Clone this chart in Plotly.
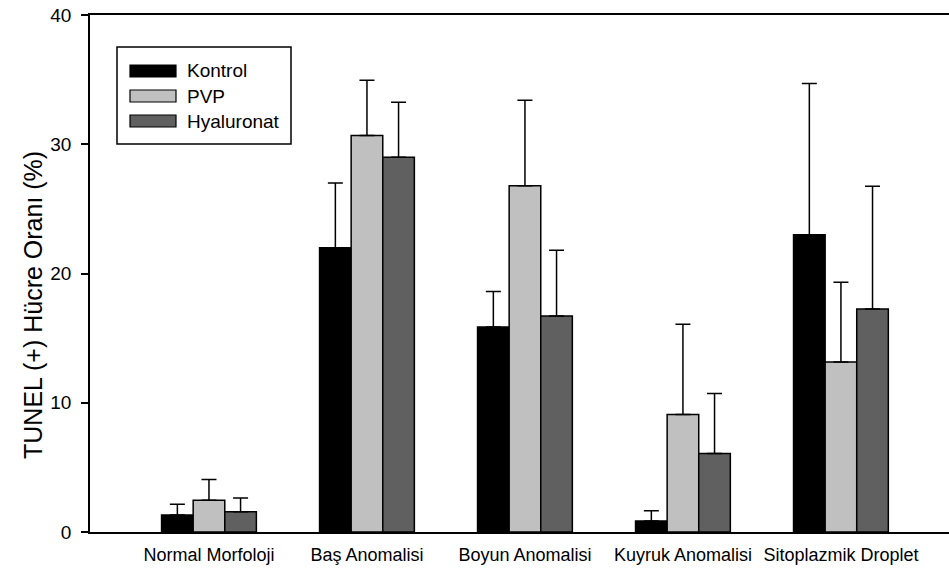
import plotly.graph_objects as go

categories = ["Normal Morfoloji", "Baş Anomalisi", "Boyun Anomalisi", "Kuyruk Anomalisi", "Sitoplazmik Droplet"]
series_names = ["Kontrol", "PVP", "Hyaluronat"]
kontrol = [1.31, 22.0, 15.87, 0.85, 23.0]
kontrol_err = [0.83, 5.0, 2.73, 0.8, 11.7]
pvp = [2.45, 30.68, 26.79, 9.09, 13.16]
pvp_err = [1.62, 4.27, 6.62, 6.98, 6.16]
hyal = [1.57, 29.0, 16.72, 6.08, 17.26]
hyal_err = [1.06, 4.25, 5.07, 4.64, 9.5]
colors = ["#000000", "#c0c0c0", "#606060"]
y_ticks = [0, 10, 20, 30, 40]
y_title = "TUNEL (+) Hücre Oranı (%)"

FONT = "Liberation Sans, Arial, sans-serif"

fig = go.Figure()
for name, vals, errs, col in zip(series_names, [kontrol, pvp, hyal], [kontrol_err, pvp_err, hyal_err], colors):
    fig.add_trace(go.Bar(
        x=categories, y=vals, name=name,
        marker=dict(color=col, line=dict(color="black", width=1.5)),
        error_y=dict(type="data", array=errs, arrayminus=[0]*len(errs), symmetric=False,
                     color="black", thickness=1.5, width=7.5),
        showlegend=False,
    ))

fig.update_layout(
    width=949, height=572,
    margin=dict(l=90, r=0, t=15, b=40),
    paper_bgcolor="white", plot_bgcolor="white",
    barmode="group", bargap=0.4, bargroupgap=0,
    font=dict(family=FONT, color="black", size=18),
    xaxis=dict(range=[-0.753, 4.684], showline=True, linecolor="black", linewidth=1.5,
               mirror=True, ticks="", showgrid=False, zeroline=False,
               tickfont=dict(size=18), ticklabelstandoff=6),
    yaxis=dict(range=[0, 40], tickvals=y_ticks, showline=True, linecolor="black", linewidth=1.5,
               ticks="outside", ticklen=7, tickwidth=1.5, tickcolor="black",
               showgrid=False, zeroline=False, tickfont=dict(size=19), ticklabelstandoff=6),
)

# custom legend and y title (paper coords)
W, H = 949, 572
L, T = 90, 15
pw, ph = W - L, H - 15 - 40
def px(x):
    return (x - L) / pw
def py(y):
    return 1 - (y - T) / ph

fig.add_annotation(xref="paper", yref="paper", x=px(33), y=py(305), text=y_title, textangle=-90,
                   showarrow=False, xanchor="center", yanchor="middle", font=dict(size=25, family=FONT))

fig.add_shape(type="rect", xref="paper", yref="paper", x0=px(117), x1=px(291), y0=py(47), y1=py(144),
              line=dict(color="black", width=1.5), fillcolor="white")
for i, (name, col) in enumerate(zip(series_names, colors)):
    yc = 71 + 25 * i
    fig.add_shape(type="rect", xref="paper", yref="paper", x0=px(130), x1=px(176),
                  y0=py(yc - 6), y1=py(yc + 6), line=dict(color="black", width=1.2), fillcolor=col)
    fig.add_annotation(xref="paper", yref="paper", x=px(185), y=py(yc), text=name, showarrow=False,
                       xanchor="left", yanchor="middle", font=dict(size=19, family=FONT))

fig.write_html("out.html", config={"displayModeBar": False})
with open("out.html", "r", encoding="utf-8") as f:
    html = f.read()
html = html.replace("<head>", "<head><style>html,body{margin:0;padding:0;}</style>", 1)
with open("out.html", "w", encoding="utf-8") as f:
    f.write(html)
